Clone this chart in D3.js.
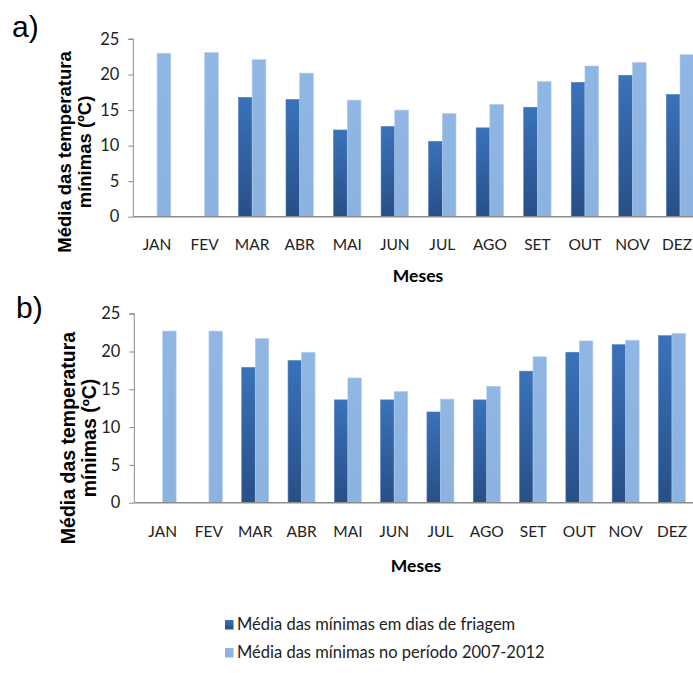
<!DOCTYPE html>
<html><head><meta charset="utf-8">
<script src="https://cdn.jsdelivr.net/npm/d3@7"></script>
<style>body{margin:0;background:#fff}svg{display:block}</style>
</head><body>
<svg id="c" width="693" height="673"></svg>
<script>
const months = ["JAN","FEV","MAR","ABR","MAI","JUN","JUL","AGO","SET","OUT","NOV","DEZ"];
const friagemA = [null,null,16.8,16.5,12.2,12.7,10.6,12.5,15.4,18.9,19.9,17.2];
const periodoA = [23.0,23.1,22.1,20.2,16.4,15.0,14.5,15.8,19.0,21.2,21.7,22.8];
const friagemB = [null,null,17.9,18.8,13.6,13.6,12.0,13.6,17.4,19.9,20.9,22.1];
const periodoB = [22.7,22.7,21.7,19.9,16.5,14.7,13.7,15.4,19.3,21.4,21.5,22.4];
const yTicks = [0,5,10,15,20,25];
const seriesNames = ["Média das mínimas em dias de friagem","Média das mínimas no período 2007-2012"];
const yTitle = ["Média das temperatura","mínimas (ºC)"];
const xTitle = "Meses";

const svg = d3.select("#c");
const defs = svg.append("defs");
const gd = defs.append("linearGradient").attr("id","gDark").attr("x1",0).attr("y1",0).attr("x2",0).attr("y2",1);
gd.append("stop").attr("offset","0%").attr("stop-color","#3a72ba");
gd.append("stop").attr("offset","100%").attr("stop-color","#284f86");
const gl = defs.append("linearGradient").attr("id","gLight").attr("x1",0).attr("y1",0).attr("x2",0).attr("y2",1);
gl.append("stop").attr("offset","0%").attr("stop-color","#90b6e4");
gl.append("stop").attr("offset","100%").attr("stop-color","#8cb2e0");

const tickFont = "Lato, 'Open Sans', sans-serif";

function panel(cfg){
  const x = d3.scaleBand().domain(months).range([cfg.bx0, cfg.bx1]);
  const y = d3.scaleLinear().domain([0,25]).range([cfg.y0, cfg.y1]);
  const bw = cfg.bw;
  const g = svg.append("g");
  g.append("text").attr("x",cfg.lx).attr("y",cfg.ly).attr("font-family","Arial, 'Liberation Sans', sans-serif")
    .attr("font-size",30).attr("fill","#000").text(cfg.label);
  months.forEach((m,i)=>{
    const c = x(m) + x.bandwidth()/2;
    if(cfg.f[i] != null){
      g.append("rect").attr("x",c-bw).attr("y",y(cfg.f[i])).attr("width",bw).attr("height",y(0)-y(cfg.f[i]))
        .attr("fill","url(#gDark)").attr("stroke","#4f7fbf").attr("stroke-width",0.6);
    }
    if(cfg.p[i] != null){
      g.append("rect").attr("x",c).attr("y",y(cfg.p[i])).attr("width",bw).attr("height",y(0)-y(cfg.p[i]))
        .attr("fill","url(#gLight)").attr("stroke","#b4cdec").attr("stroke-width",0.6);
    }
  });
  const ya = d3.axisLeft(y).tickValues(yTicks).tickSize(5).tickPadding(9);
  const yg = g.append("g").attr("transform",`translate(${cfg.ax},0)`).call(ya);
  yg.select(".domain").attr("stroke","#8c8c8c").attr("d",`M-5,${y(25)}H0V${y(0)}`);
  yg.selectAll(".tick line").attr("stroke","#8c8c8c");
  yg.selectAll(".tick text").attr("font-family",tickFont).attr("font-size",16.5).attr("fill","#222");
  const xa = d3.axisBottom(x).tickSize(0).tickPadding(cfg.xpad);
  const xg = g.append("g").attr("transform",`translate(0,${y(0)})`).call(xa);
  xg.select(".domain").remove();
  xg.selectAll(".tick text").attr("font-family",tickFont).attr("font-size",15.5).attr("fill","#222");
  // keep the last label inside the picture
  xg.selectAll(".tick").each(function(){
    const tx = d3.select(this).select("text");
    const tr = this.getCTM();
    const bb = tx.node().getBBox();
    const right = tr.e + bb.x + bb.width;
    if(right > 692) tx.attr("dx", (692 - right) + "px");
  });
  g.append("line").attr("x1",cfg.ax).attr("x2",693).attr("y1",y(0)).attr("y2",y(0)).attr("stroke","#8c8c8c").attr("stroke-width",1.5);
  const t = g.append("text").attr("transform",`translate(${cfg.tx},${cfg.ty}) rotate(-90)`)
    .attr("text-anchor","middle").attr("font-family","Arial, 'Liberation Sans', sans-serif")
    .attr("font-weight","bold").attr("font-size",cfg.tfs).attr("fill","#000");
  t.append("tspan").attr("x",0).attr("dy",0).text(yTitle[0]);
  t.append("tspan").attr("x",0).attr("dy",cfg.tfs*1.08).text(yTitle[1]);
  g.append("text").attr("x",cfg.mx).attr("y",cfg.my).attr("text-anchor","middle")
    .attr("font-family",tickFont).attr("font-weight","bold").attr("font-size",17.5).attr("fill","#000").text(xTitle);
}

panel({label:"a)", lx:12, ly:37, bx0:133.3, bx1:703.8, y0:216.7, y1:39, ax:133.3, bw:13.7,
  f:friagemA, p:periodoA, xpad:22, tx:71, ty:152, tfs:18.5, mx:418, my:282});
panel({label:"b)", lx:16, ly:318, bx0:139.5, bx1:695.1, y0:502.7, y1:313.7, ax:134.3, bw:13.5,
  f:friagemB, p:periodoB, xpad:23, tx:75, ty:438, tfs:19.5, mx:416, my:572});

const lg = svg.append("g");
seriesNames.forEach((s,i)=>{
  const yy = [630,658][i];
  lg.append("rect").attr("x",225).attr("y",yy-10).attr("width",8.5).attr("height",9.5)
    .attr("fill", i===0 ? "url(#gDark)" : "url(#gLight)");
  lg.append("text").attr("x",237).attr("y",yy).attr("font-family",tickFont).attr("font-size",16.5)
    .attr("fill","#222").text(s);
});
</script>
</body></html>
